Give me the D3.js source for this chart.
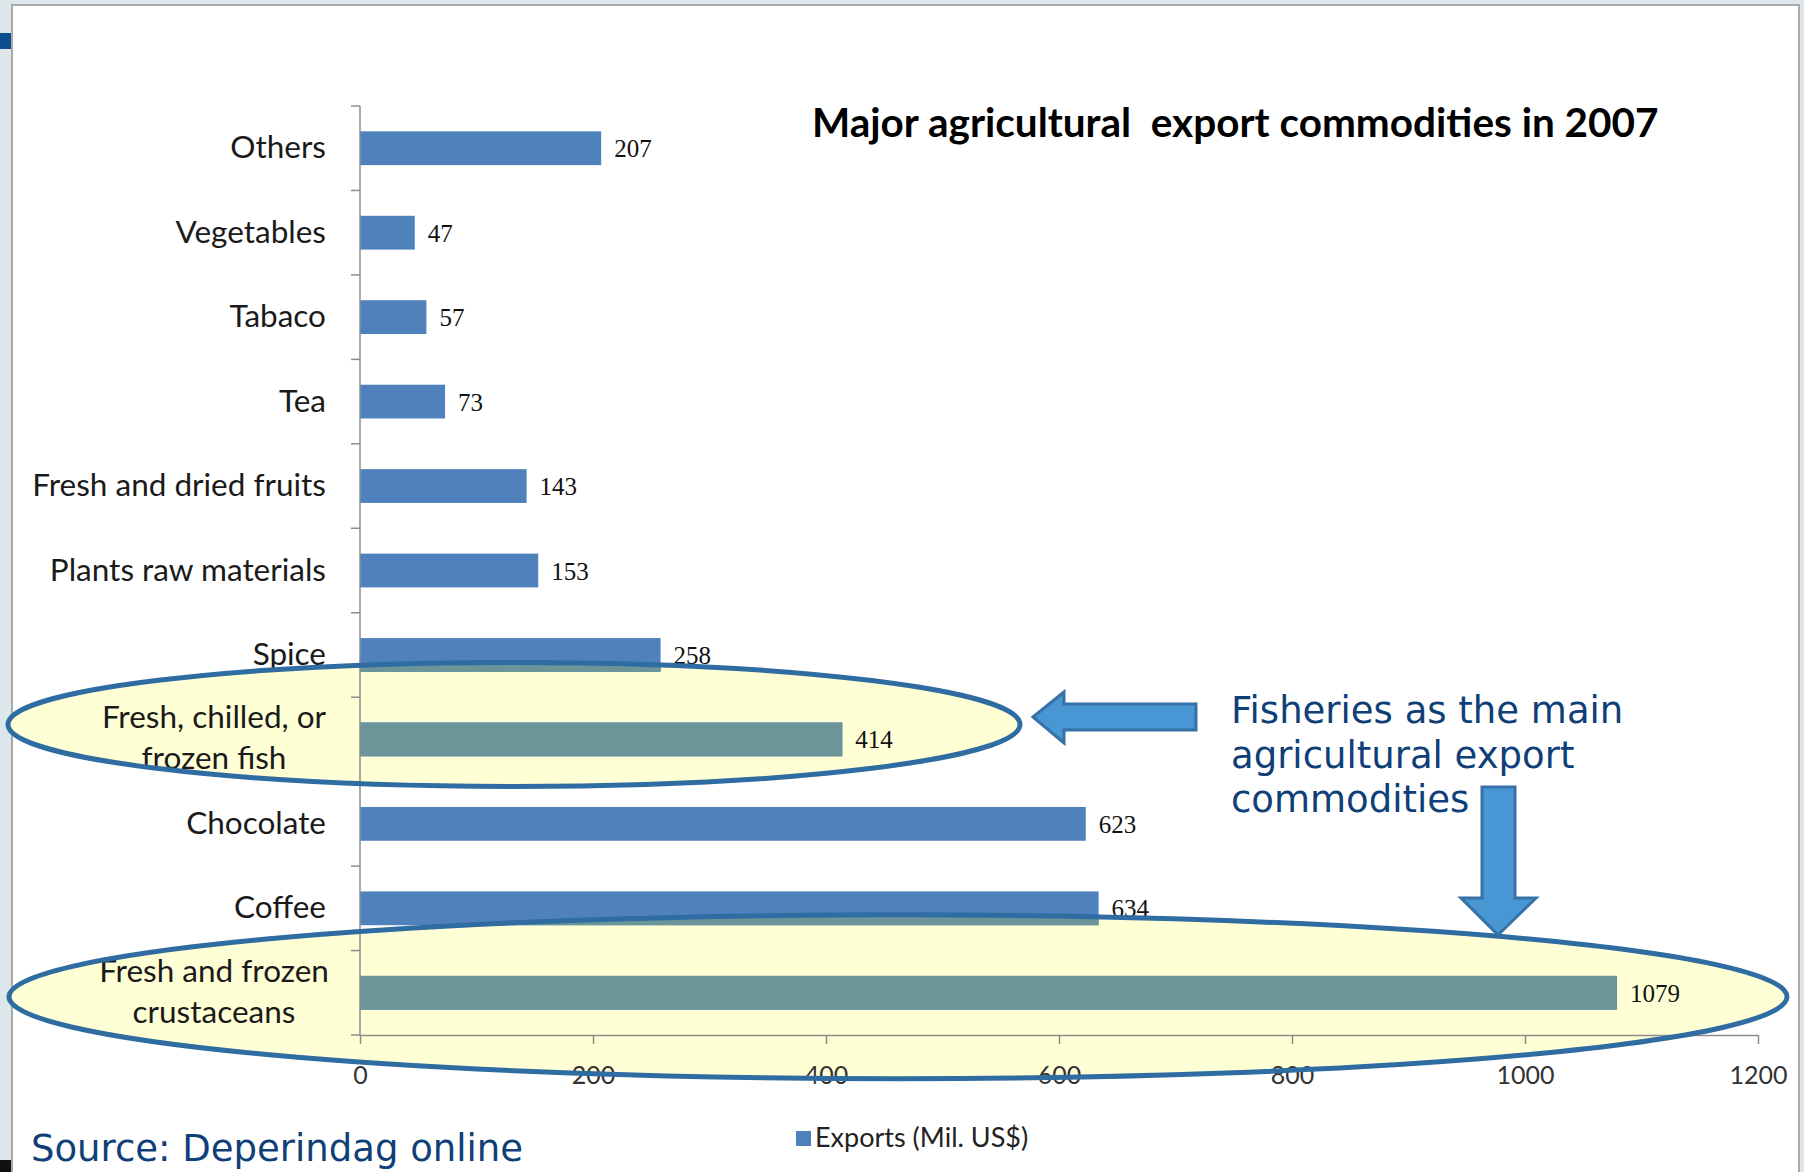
<!DOCTYPE html>
<html>
<head>
<meta charset="utf-8">
<script src="https://cdn.jsdelivr.net/npm/d3@7"></script>
<style>
  body { margin: 0; background: #dfe7eb; }
  svg { display: block; }
</style>
</head>
<body>
<div id="chart"></div>
<script>
// data (top to bottom)
var categories = ["Others", "Vegetables", "Tabaco", "Tea", "Fresh and dried fruits",
    "Plants raw materials", "Spice", "Fresh, chilled, or\nfrozen fish", "Chocolate",
    "Coffee", "Fresh and frozen\ncrustaceans"];
var exports = [207, 47, 57, 73, 143, 153, 258, 414, 623, 634, 1079];
var xTicks = [0, 200, 400, 600, 800, 1000, 1200];
var seriesName = "Exports (Mil. US$)";
var title = "Major agricultural  export commodities in 2007";
var noteLines = ["Fisheries as the main", "agricultural export", "commodities"];
var source = "Source: Deperindag online";

var width = 1804, height = 1172;
var margin = { left: 360, right: 46, top: 106, bottom: 137 };

var rows = categories.map(function (c, i) { return { name: c, value: exports[i] }; });

var svg = d3.select("#chart").append("svg")
    .attr("width", width)
    .attr("height", height);

// slide frame
svg.append("rect").attr("x", 0).attr("y", 0).attr("width", width).attr("height", height).attr("fill", "#dde6ea");
svg.append("rect").attr("x", 0).attr("y", 33).attr("width", 12).attr("height", 16).attr("fill", "#0b4f8c");
svg.append("rect").attr("x", 0).attr("y", 1160).attr("width", 12).attr("height", 12).attr("fill", "#111");
svg.append("rect")
    .attr("x", 12).attr("y", 5).attr("width", 1787).attr("height", height)
    .attr("fill", "#fff").attr("stroke", "#a9a9a9").attr("stroke-width", 2);

var x = d3.scaleLinear().domain([0, 1200]).range([margin.left, width - margin.right]);
var y = d3.scaleBand().domain(categories)
    .range([margin.top, height - margin.bottom])
    .paddingInner(0.6).paddingOuter(0.3);

function mid(name) { return y(name) + y.bandwidth() / 2; }

// highlight ellipses (annotation shapes)
var ellipses = [
    { cx: 514, cy: mid(categories[7]) - 15, rx: 506, ry: 62 },
    { cx: 898, cy: mid(categories[10]) + 4, rx: 889, ry: 82 }
];

var defs = svg.append("defs");
var clip = defs.append("clipPath").attr("id", "hl");
clip.selectAll("ellipse").data(ellipses).enter().append("ellipse")
    .attr("cx", function (d) { return d.cx; }).attr("cy", function (d) { return d.cy; })
    .attr("rx", function (d) { return d.rx; }).attr("ry", function (d) { return d.ry; });

svg.append("g").selectAll("ellipse").data(ellipses).enter().append("ellipse")
    .attr("cx", function (d) { return d.cx; }).attr("cy", function (d) { return d.cy; })
    .attr("rx", function (d) { return d.rx; }).attr("ry", function (d) { return d.ry; })
    .attr("fill", "#ffffd5");

// bars
svg.append("g").selectAll("rect").data(rows).enter().append("rect")
    .attr("x", x(0))
    .attr("y", function (d) { return y(d.name); })
    .attr("width", function (d) { return x(d.value) - x(0); })
    .attr("height", y.bandwidth())
    .attr("fill", "#4f81bd");

// bars tinted where the yellow ellipse lies over them
svg.append("g").attr("clip-path", "url(#hl)")
    .selectAll("rect").data(rows).enter().append("rect")
    .attr("x", x(0))
    .attr("y", function (d) { return y(d.name); })
    .attr("width", function (d) { return x(d.value) - x(0); })
    .attr("height", y.bandwidth())
    .attr("fill", "#6b9599");

// value labels
svg.append("g").selectAll("text").data(rows).enter().append("text")
    .attr("x", function (d) { return x(d.value) + 13; })
    .attr("y", function (d) { return mid(d.name) + 9; })
    .attr("font-family", "'Liberation Serif', serif")
    .attr("font-size", 25)
    .attr("fill", "#111")
    .text(function (d) { return d.value; });

// x axis
var xAxis = svg.append("g")
    .attr("transform", "translate(0," + (height - margin.bottom) + ")")
    .call(d3.axisBottom(x).tickValues(xTicks).tickFormat(d3.format("d"))
        .tickSize(9).tickSizeOuter(0).tickPadding(22));
xAxis.select(".domain").attr("stroke", "#8c8c8c").attr("stroke-width", 1.5);
xAxis.selectAll(".tick line").attr("stroke", "#8c8c8c").attr("stroke-width", 1.5);
xAxis.selectAll(".tick text")
    .attr("font-family", "Lato, sans-serif").attr("font-size", 25).attr("fill", "#333");

// y axis: ticks at band boundaries
var bounds = categories.map(function (c) { return y(c) - y.step() * y.paddingInner() / 2; });
bounds.push(height - margin.bottom);
svg.append("line")
    .attr("x1", x(0)).attr("x2", x(0))
    .attr("y1", margin.top).attr("y2", height - margin.bottom)
    .attr("stroke", "#8c8c8c").attr("stroke-width", 1.5);
svg.append("g").selectAll("line").data(bounds).enter().append("line")
    .attr("x1", x(0) - 9).attr("x2", x(0))
    .attr("y1", function (d) { return d; }).attr("y2", function (d) { return d; })
    .attr("stroke", "#8c8c8c").attr("stroke-width", 1.5);

// category labels
var labels = svg.append("g")
    .attr("font-family", "Lato, sans-serif")
    .attr("font-size", 31.5)
    .attr("fill", "#1a1a1a");
rows.forEach(function (d) {
    var lines = d.name.split("\n");
    if (lines.length == 1) {
        labels.append("text")
            .attr("x", 326).attr("y", mid(d.name) + 10)
            .attr("text-anchor", "end")
            .text(d.name);
    } else {
        lines.forEach(function (l, i) {
            labels.append("text")
                .attr("x", 214).attr("y", mid(d.name) - 11 + i * 41)
                .attr("text-anchor", "middle")
                .text(l);
        });
    }
});

// ellipse outlines on top
svg.append("g").selectAll("ellipse").data(ellipses).enter().append("ellipse")
    .attr("cx", function (d) { return d.cx; }).attr("cy", function (d) { return d.cy; })
    .attr("rx", function (d) { return d.rx; }).attr("ry", function (d) { return d.ry; })
    .attr("fill", "none").attr("stroke", "#2f6ca2").attr("stroke-width", 5);

// arrows
var arrowLeft = [[1033, 717], [1064, 692], [1064, 704], [1196, 704], [1196, 730], [1064, 730], [1064, 743]];
var arrowDown = [[1482, 787], [1515, 787], [1515, 898], [1536, 898], [1498, 935], [1461, 898], [1482, 898]];
svg.append("g").selectAll("polygon").data([arrowLeft, arrowDown]).enter().append("polygon")
    .attr("points", function (d) { return d.join(" "); })
    .attr("fill", "#4896d3").attr("stroke", "#3671a8").attr("stroke-width", 3)
    .attr("stroke-linejoin", "miter");

// title
svg.append("text")
    .attr("x", 812).attr("y", 137)
    .attr("font-family", "Lato, sans-serif").attr("font-weight", "bold")
    .attr("font-size", 40.5).attr("fill", "#000")
    .attr("xml:space", "preserve")
    .style("white-space", "pre")
    .text(title);

// note
svg.append("g").selectAll("text").data(noteLines).enter().append("text")
    .attr("x", 1231)
    .attr("y", function (d, i) { return 723 + i * 44.5; })
    .attr("font-family", "'DejaVu Sans', Verdana, sans-serif")
    .attr("font-size", 37).attr("fill", "#0f3f78")
    .text(function (d) { return d; });

// source
svg.append("text")
    .attr("x", 31).attr("y", 1161)
    .attr("font-family", "'DejaVu Sans', Verdana, sans-serif")
    .attr("font-size", 37).attr("fill", "#0f3f78")
    .text(source);

// legend
var legend = svg.append("g");
legend.append("rect").attr("x", 796).attr("y", 1131).attr("width", 15).attr("height", 15).attr("fill", "#4f81bd");
legend.append("text")
    .attr("x", 815).attr("y", 1147)
    .attr("font-family", "Lato, sans-serif").attr("font-size", 27).attr("fill", "#222")
    .text(seriesName);
</script>
</body>
</html>
